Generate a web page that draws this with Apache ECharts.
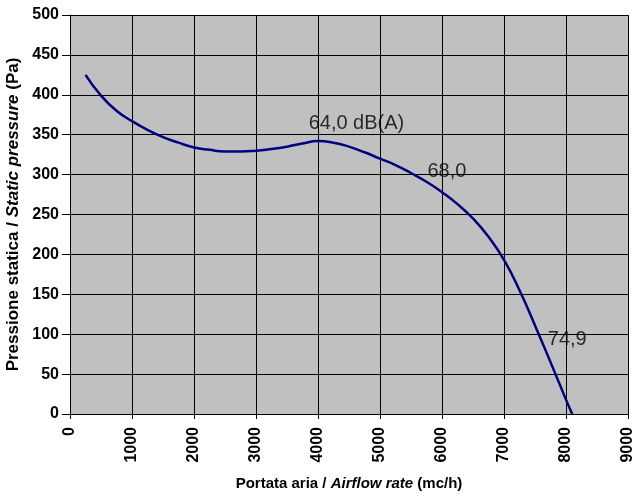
<!DOCTYPE html>
<html>
<head>
<meta charset="utf-8">
<script src="https://cdn.jsdelivr.net/npm/echarts@6/dist/echarts.min.js"></script>
<style>html,body{margin:0;padding:0;background:#fff}#c{width:632px;height:502px}</style>
</head>
<body>
<div id="c"></div>
<script>
// Curve: airflow (mc/h) vs static pressure (Pa)
const flowX = [250, 500, 750, 1000, 1250, 1500, 1750, 2000, 2250, 2500, 2750, 3000, 3250, 3500, 3750, 4000, 4250, 4500, 4750, 5000, 5250, 5500, 5750, 6000, 6250, 6500, 6750, 7000, 7250, 7500, 7750, 8000, 8100];
const pressureY = [425, 399, 380, 367, 356, 347, 340, 334, 331, 329, 329, 330, 332, 335, 339, 342, 340, 335, 328, 320, 312, 302, 291, 278, 263, 245, 222, 193, 155, 111, 65, 18, 0];
// Noise level annotations
const noiseLabels = ['64,0 dB(A)', '68,0', '74,9'];
const noiseX = [4620, 6080, 8020];
const noiseY = [364, 304, 94];
// Axis ticks
const xTicks = [0, 1000, 2000, 3000, 4000, 5000, 6000, 7000, 8000, 9000];
const yTicks = [0, 50, 100, 150, 200, 250, 300, 350, 400, 450, 500];

const FONT = '"Liberation Sans", Arial, sans-serif';
const chart = echarts.init(document.getElementById('c'), null, {renderer: 'canvas'});
chart.setOption({
  animation: false,
  backgroundColor: '#ffffff',
  grid: {left: 70, right: 4, top: 15, bottom: 88, containLabel: false, outerBoundsMode: 'none',
         show: true, backgroundColor: '#C0C0C0', borderWidth: 0},
  xAxis: {
    type: 'value', min: xTicks[0], max: xTicks[xTicks.length - 1], interval: 1000,
    name: 'Portata aria / {i|Airflow rate} (mc/h)',
    nameLocation: 'middle', nameGap: 62,
    nameTextStyle: {fontFamily: FONT, fontWeight: 'bold', fontSize: 15, color: '#000',
      rich: {i: {fontFamily: FONT, fontWeight: 'bold', fontStyle: 'italic', fontSize: 15, color: '#000'}}},
    axisLine: {show: true, lineStyle: {color: '#000', width: 1}},
    axisTick: {show: true, length: 5, lineStyle: {color: '#000'}},
    axisLabel: {rotate: 90, margin: 13, fontFamily: FONT, fontWeight: 'bold', fontSize: 16, color: '#000',
                formatter: v => String(v)},
    splitLine: {show: true, lineStyle: {color: '#000', width: 1}}
  },
  yAxis: {
    type: 'value', min: yTicks[0], max: yTicks[yTicks.length - 1], interval: 50,
    name: 'Pressione statica / {i|Static pressure} (Pa)',
    nameLocation: 'middle', nameGap: 47, nameRotate: 90,
    nameTextStyle: {fontFamily: FONT, fontWeight: 'bold', fontSize: 17, color: '#000',
      rich: {i: {fontFamily: FONT, fontWeight: 'bold', fontStyle: 'italic', fontSize: 17, color: '#000'}}},
    axisLine: {show: true, lineStyle: {color: '#000', width: 1}},
    axisTick: {show: true, length: 8, lineStyle: {color: '#000'}},
    axisLabel: {margin: 11, fontFamily: FONT, fontWeight: 'bold', fontSize: 16, color: '#000',
                formatter: v => String(v)},
    splitLine: {show: true, lineStyle: {color: '#000', width: 1}}
  },
  series: [
    {
      type: 'line', smooth: 0.5, showSymbol: false,
      data: flowX.map((x, i) => [x, pressureY[i]]),
      lineStyle: {color: '#000080', width: 2.5},
      itemStyle: {color: '#000080'}
    },
    {
      type: 'scatter', symbolSize: 0, silent: true,
      data: noiseLabels.map((t, i) => ({name: t, value: [noiseX[i], noiseY[i]]})),
      label: {show: true, position: 'inside', formatter: p => p.name,
              fontFamily: FONT, fontSize: 20, color: '#000', textBorderWidth: 0}
    }
  ]
});
</script>
</body>
</html>
